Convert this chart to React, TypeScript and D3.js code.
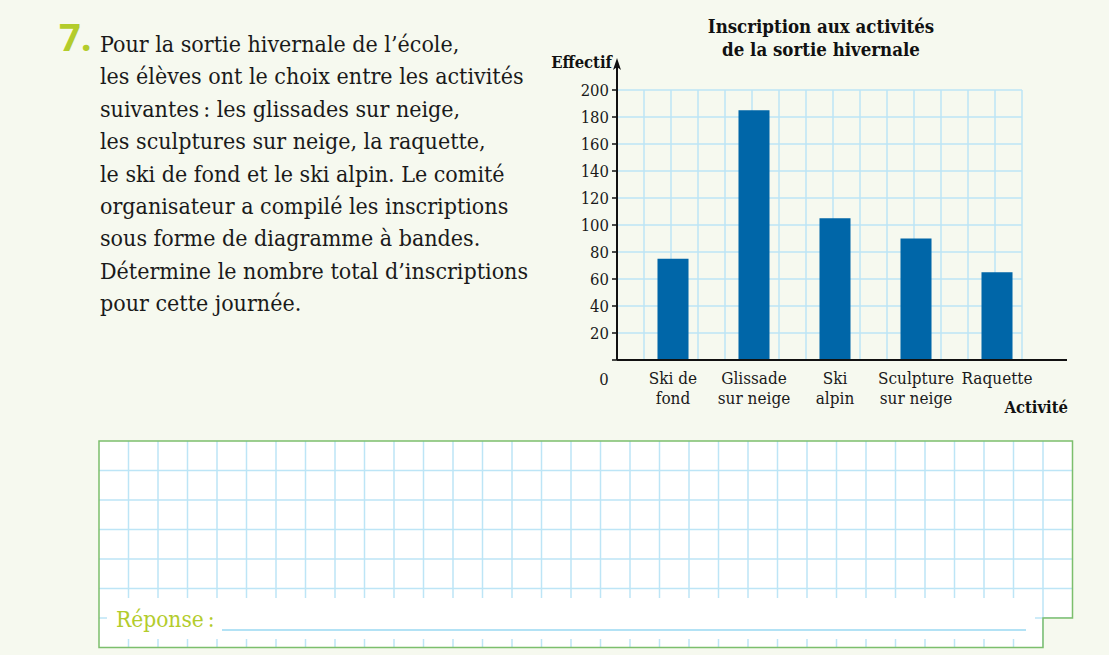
import React, { useEffect, useRef } from "react";
import * as d3 from "d3";

// chart data
const activites = ["Ski de fond", "Glissade sur neige", "Ski alpin", "Sculpture sur neige", "Raquette"];
const activiteLignes = [["Ski de", "fond"], ["Glissade", "sur neige"], ["Ski", "alpin"], ["Sculpture", "sur neige"], ["Raquette"]];
const effectifs = [75, 185, 105, 90, 65];
const yTicks = [20, 40, 60, 80, 100, 120, 140, 160, 180, 200];

const titleLines = ["Inscription aux activités", "de la sortie hivernale"];
const questionLines = [
  "Pour la sortie hivernale de l’école,",
  "les élèves ont le choix entre les activités",
  "suivantes\u202F: les glissades sur neige,",
  "les sculptures sur neige, la raquette,",
  "le ski de fond et le ski alpin. Le comité",
  "organisateur a compilé les inscriptions",
  "sous forme de diagramme à bandes.",
  "Détermine le nombre total d’inscriptions",
  "pour cette journée.",
];

const SERIF = "'DejaVu Serif Condensed', 'DejaVu Serif', serif";
const GREEN = "#b3cc2c";
const GRID = "#bde5f6";
const BAR = "#0066a8";

function App() {
  const ref = useRef(null);

  useEffect(() => {
    if (!ref.current) return;
    const svg = d3.select(ref.current);
    svg.selectAll("*").remove();

    svg.append("rect").attr("width", 1109).attr("height", 655).attr("fill", "#f6f9ef");

    // ---- question text
    svg.append("text")
      .attr("x", 59).attr("y", 51)
      .attr("font-family", "'Open Sans', sans-serif")
      .attr("font-weight", 700)
      .attr("font-size", 38)
      .attr("fill", GREEN)
      .text("7.");

    svg.append("g").selectAll("text")
      .data(questionLines)
      .enter().append("text")
      .attr("x", 100)
      .attr("y", (_, i) => 52 + i * 32.4)
      .attr("font-family", SERIF)
      .attr("font-size", 23)
      .attr("fill", "#1a1a1a")
      .text(d => d);

    // ---- chart
    const x0 = 617;
    const y = d3.scaleLinear().domain([0, 200]).range([360, 90]);
    const x = d3.scaleBand().domain(activites).range([x0 + 15.5, x0 + 420.5]).paddingInner(0.617).paddingOuter(0.3085);
    const cell = 27;
    const gridRight = x0 + cell * 15;

    const chart = svg.append("g");

    chart.selectAll(".hgrid")
      .data(yTicks)
      .enter().append("line")
      .attr("x1", x0).attr("x2", gridRight)
      .attr("y1", d => y(d)).attr("y2", d => y(d))
      .attr("stroke", GRID).attr("stroke-width", 1.5);

    chart.selectAll(".vgrid")
      .data(d3.range(1, 16))
      .enter().append("line")
      .attr("x1", d => x0 + d * cell).attr("x2", d => x0 + d * cell)
      .attr("y1", y(200)).attr("y2", y(0))
      .attr("stroke", GRID).attr("stroke-width", 1.5);

    chart.selectAll(".bar")
      .data(effectifs)
      .enter().append("rect")
      .attr("x", (_, i) => x(activites[i]))
      .attr("width", x.bandwidth())
      .attr("y", d => y(d))
      .attr("height", d => y(0) - y(d))
      .attr("fill", BAR);

    // y ticks + labels
    chart.selectAll(".tick")
      .data([0, ...yTicks])
      .enter().append("line")
      .attr("x1", x0 - 5).attr("x2", x0)
      .attr("y1", d => y(d)).attr("y2", d => y(d))
      .attr("stroke", "#111").attr("stroke-width", 1.5);

    chart.selectAll(".ylab")
      .data(yTicks)
      .enter().append("text")
      .attr("x", x0 - 8)
      .attr("y", d => y(d) + 6)
      .attr("text-anchor", "end")
      .attr("font-family", SERIF)
      .attr("font-size", 16.5)
      .attr("fill", "#1a1a1a")
      .text(d => d);

    chart.append("text")
      .attr("x", 604).attr("y", 385)
      .attr("text-anchor", "middle")
      .attr("font-family", SERIF).attr("font-size", 16.5).attr("fill", "#1a1a1a")
      .text("0");

    // axes
    chart.append("line")
      .attr("x1", x0).attr("x2", 1067)
      .attr("y1", y(0)).attr("y2", y(0))
      .attr("stroke", "#111").attr("stroke-width", 2);
    chart.append("line")
      .attr("x1", x0).attr("x2", x0)
      .attr("y1", y(0)).attr("y2", 64)
      .attr("stroke", "#111").attr("stroke-width", 2);
    chart.append("path")
      .attr("d", `M${x0 - 4},${70} L${x0},${58} L${x0 + 4},${70} L${x0},${67} Z`)
      .attr("fill", "#111");

    // category labels
    const catG = chart.selectAll(".cat")
      .data(activiteLignes)
      .enter().append("text")
      .attr("text-anchor", "middle")
      .attr("font-family", SERIF)
      .attr("font-size", 17)
      .attr("fill", "#1a1a1a");
    catG.selectAll("tspan")
      .data((d, i) => d.map(t => ({ t, i })))
      .enter().append("tspan")
      .attr("x", d => x(activites[d.i]) + x.bandwidth() / 2)
      .attr("y", (_, j) => 384 + j * 20)
      .text(d => d.t);

    // axis titles
    chart.append("text")
      .attr("x", 612).attr("y", 68)
      .attr("text-anchor", "end")
      .attr("font-family", SERIF).attr("font-weight", 700).attr("font-size", 16.5)
      .attr("fill", "#111")
      .text("Effectif");
    chart.append("text")
      .attr("x", 1068).attr("y", 413)
      .attr("text-anchor", "end")
      .attr("font-family", SERIF).attr("font-weight", 700).attr("font-size", 16.5)
      .attr("fill", "#111")
      .text("Activité");

    chart.selectAll(".title")
      .data(titleLines)
      .enter().append("text")
      .attr("x", 821)
      .attr("y", (_, i) => 33 + i * 23)
      .attr("text-anchor", "middle")
      .attr("font-family", SERIF).attr("font-weight", 700).attr("font-size", 18.5)
      .attr("fill", "#111")
      .text(d => d);

    // ---- answer box
    const bx = 99, by = 441, bc = 29.5, cols = 33, rows = 7;
    const box = svg.append("g");
    box.append("rect")
      .attr("x", bx).attr("y", by).attr("width", bc * cols).attr("height", bc * rows)
      .attr("fill", "#fff");
    box.selectAll(".bv")
      .data(d3.range(1, cols))
      .enter().append("line")
      .attr("x1", d => bx + d * bc).attr("x2", d => bx + d * bc)
      .attr("y1", by).attr("y2", by + bc * rows)
      .attr("stroke", GRID).attr("stroke-width", 1.5);
    box.selectAll(".bh")
      .data(d3.range(1, rows))
      .enter().append("line")
      .attr("x1", bx).attr("x2", bx + bc * cols)
      .attr("y1", d => by + d * bc).attr("y2", d => by + d * bc)
      .attr("stroke", GRID).attr("stroke-width", 1.5);
    // white band for the answer line
    box.append("rect")
      .attr("x", 107).attr("y", 598).attr("width", 928).attr("height", 41)
      .attr("fill", "#fff");
    // cut-out corner
    box.append("rect")
      .attr("x", bx + bc * 32 + 0.5).attr("y", 618).attr("width", 40).attr("height", 40)
      .attr("fill", "#f6f9ef");
    box.append("path")
      .attr("d", `M${bx},${by} H${bx + bc * cols} V618 H${bx + bc * 32} V${by + bc * rows} H${bx} Z`)
      .attr("fill", "none").attr("stroke", "#7cbf6c").attr("stroke-width", 1.5);

    box.append("line")
      .attr("x1", 222).attr("x2", 1026).attr("y1", 630).attr("y2", 630)
      .attr("stroke", "#9ad8f2").attr("stroke-width", 1.5);
    box.append("text")
      .attr("x", 116).attr("y", 627)
      .attr("font-family", SERIF).attr("font-size", 22.5)
      .attr("fill", GREEN)
      .text("Réponse\u202F:");
  }, []);

  return (
    <svg ref={ref} width={1109} height={655} style={{ position: "absolute", left: 0, top: 0 }}></svg>
  );
}

export default App;
